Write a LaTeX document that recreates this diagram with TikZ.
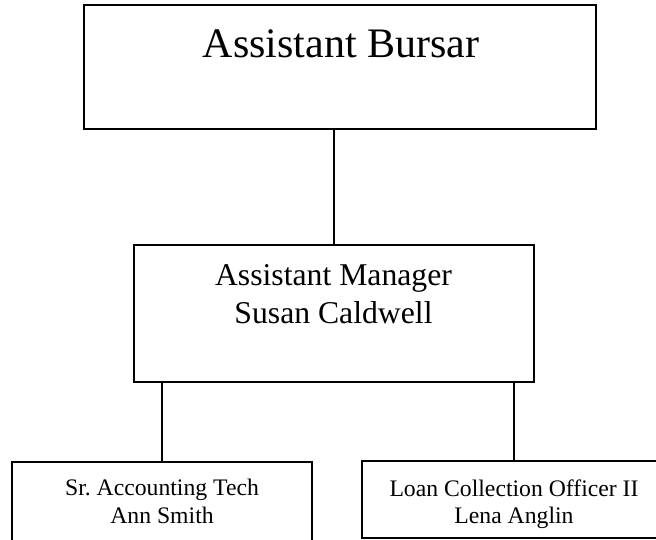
\documentclass[tikz,border=0pt]{standalone}
\usepackage{fontspec}
\setmainfont{Liberation Serif}
\frenchspacing
\begin{document}
\begin{tikzpicture}[x=1pt,y=-1pt,
  orgbox/.style={draw=black,line width=1.5pt,rectangle,inner sep=0pt,outer sep=0pt},
  bigtxt/.style={anchor=base,inner sep=0pt,font=\fontsize{42}{50}\selectfont},
  midtxt/.style={anchor=base,inner sep=0pt,font=\fontsize{31.7}{38}\selectfont},
  smalltxt/.style={anchor=base,inner sep=0pt,font=\fontsize{23.7}{29}\selectfont},
  link/.style={draw=black,line width=1.5pt}]
\useasboundingbox (0,0) rectangle (656,539);
\clip (0,0) rectangle (656,539);
% boxes
\node[orgbox,minimum width=512pt,minimum height=124pt] (top) at (340,67) {};
\node[orgbox,minimum width=400pt,minimum height=137pt] (mgr) at (334,313.5) {};
\node[orgbox,minimum width=300pt,minimum height=138pt] (lt) at (162,531) {};
\node[orgbox,minimum width=304pt,minimum height=77pt] (rt) at (514,499.5) {};
% texts
\node[bigtxt] (topt) at (341,57) {Assistant Bursar};
\node[midtxt] (mgr1) at (333.5,285) {Assistant Manager};
\node[midtxt] (mgr2) at (333.5,323) {Susan Caldwell};
\node[smalltxt] (lt1) at (162,495) {Sr. Accounting Tech};
\node[smalltxt] (lt2) at (162,523) {Ann Smith};
\node[smalltxt] (rt1) at (514,496) {Loan Collection Officer II};
\node[smalltxt] (rt2) at (514,523) {Lena Anglin};
% connectors
\draw[link] (mgr.north) -- (mgr.north |- top.south);
\draw[link] (lt.north) -- (lt.north |- mgr.south);
\draw[link] (rt.north) -- (rt.north |- mgr.south);
\end{tikzpicture}
\end{document}
